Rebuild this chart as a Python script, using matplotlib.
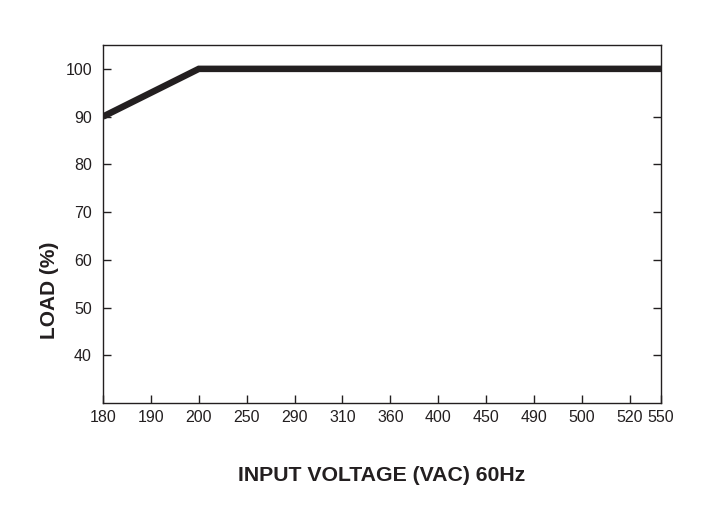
#!/usr/bin/env python3
"""Derating curve: output load vs. input voltage."""

import numpy as np
import matplotlib
matplotlib.use("Agg")
import matplotlib.pyplot as plt

# data
tick_volts = [180, 190, 200, 250, 290, 310, 360, 400, 450, 490, 500, 520, 550]
curve_volts = [180, 200, 550]
curve_load = [90, 100, 100]
load_ticks = [40, 50, 60, 70, 80, 90, 100]

# the voltage axis is not linear: ticks are evenly spaced, last one is short
tick_pos = list(range(len(tick_volts) - 1)) + [len(tick_volts) - 2 + 0.65]

INK = "#231f20"
plt.rcParams["font.family"] = ["Liberation Sans Narrow", "Liberation Sans", "DejaVu Sans"]


def main():
    fig = plt.figure(figsize=(7.23, 5.09), dpi=100)
    ax = fig.add_axes([0.1425, 0.2083, 0.7717, 0.7033])

    x = np.interp(curve_volts, tick_volts, tick_pos)
    ax.plot(x, curve_load, color=INK, lw=4.7, solid_joinstyle="miter",
            solid_capstyle="butt")

    ax.set_xlim(tick_pos[0], tick_pos[-1])
    ax.set_ylim(30, 105)
    ax.set_xticks(tick_pos)
    ax.set_xticklabels([str(v) for v in tick_volts])
    ax.set_yticks(load_ticks)

    for s in ax.spines.values():
        s.set_color(INK)
        s.set_linewidth(1.0)
    ax.tick_params(axis="x", direction="in", length=6, width=1.0, color=INK,
                   labelsize=11.5, labelcolor=INK, pad=5)
    ax.tick_params(axis="y", direction="in", length=6, width=1.0, color=INK,
                   labelsize=11.5, labelcolor=INK, pad=8, right=True)

    fig.text(0.069, 0.43, "LOAD (%)", rotation=90, ha="center", va="center",
             fontsize=15, fontweight="bold", color=INK)
    fig.text(0.528, 0.066, "INPUT VOLTAGE (VAC) 60Hz", ha="center", va="center",
             fontsize=15.3, fontweight="bold", color=INK)

    fig.savefig("out.png", dpi=100)


if __name__ == "__main__":
    main()
